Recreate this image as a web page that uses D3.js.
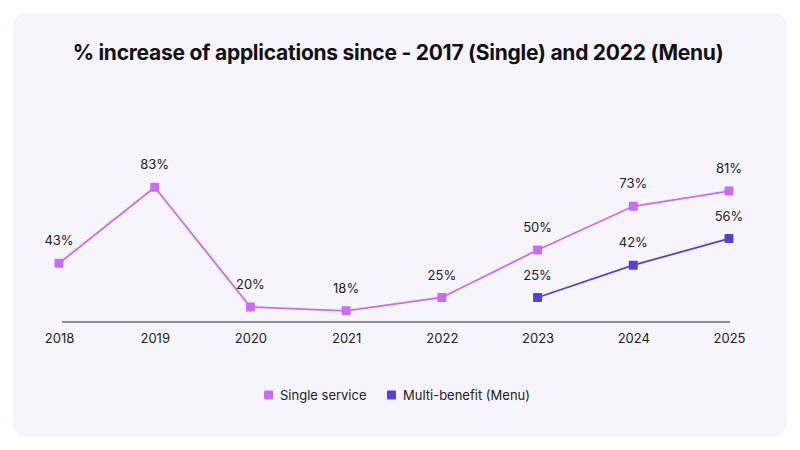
<!DOCTYPE html>
<html>
<head>
<meta charset="utf-8">
<script src="https://cdn.jsdelivr.net/npm/d3@7"></script>
<style>
  body { margin: 0; background: #fff; font-family: Inter, "Noto Sans", sans-serif; }
</style>
</head>
<body>
<script>
var years = ["2018", "2019", "2020", "2021", "2022", "2023", "2024", "2025"];
var singleValues = [43, 83, 20, 18, 25, 50, 73, 81];
var menuYears = ["2023", "2024", "2025"];
var menuValues = [25, 42, 56];
var seriesNames = ["Single service", "Multi-benefit (Menu)"];

var width = 800,
  height = 450;

var colors = ["#c86cf2", "#5a3fd4"];

var svg = d3.select("body").append("svg")
  .attr("width", width)
  .attr("height", height);

// card
svg.append("rect")
  .attr("x", 13)
  .attr("y", 13)
  .attr("width", 774)
  .attr("height", 424)
  .attr("rx", 14)
  .style("fill", "#f6f4fd");

svg.append("text")
  .attr("x", 398)
  .attr("y", 60)
  .style("text-anchor", "middle")
  .style("font-size", "21px")
  .style("font-weight", "bold")
  .style("fill", "#111")
  .style("letter-spacing", "-0.25px")
  .text("% increase of applications since - 2017 (Single) and 2022 (Menu)");

var x = d3.scalePoint()
  .domain(years)
  .range([59, 729]);

var y = d3.scaleLinear()
  .domain([0, 100])
  .range([345, 155]);

// axis
var xAxis = d3.axisBottom(x).tickSize(0).tickPadding(12);
var axisG = svg.append("g")
  .attr("transform", "translate(0,322)")
  .call(xAxis);
axisG.select(".domain")
  .attr("d", "M62,0H730")
  .style("stroke", "#6b6b6b")
  .style("stroke-width", "1.3px");
axisG.selectAll("text")
  .style("font-size", "13px")
  .style("font-family", "Inter, sans-serif")
  .style("fill", "#222");

var single = years.map(function(d, i) { return { year: d, value: singleValues[i] }; });
var menu = menuYears.map(function(d, i) { return { year: d, value: menuValues[i] }; });

var line = d3.line()
  .x(function(d) { return x(d.year); })
  .y(function(d) { return y(d.value); });

[single, menu].forEach(function(data, k) {
  svg.append("path")
    .datum(data)
    .attr("d", line)
    .style("fill", "none")
    .style("stroke", colors[k])
    .style("stroke-width", "1.8px");

  svg.selectAll(".pt" + k)
    .data(data)
    .enter().append("rect")
    .attr("class", "pt" + k)
    .attr("x", function(d) { return x(d.year) - 4.5; })
    .attr("y", function(d) { return y(d.value) - 4.5; })
    .attr("width", 9)
    .attr("height", 9)
    .attr("rx", 1)
    .style("fill", colors[k]);

  svg.selectAll(".lbl" + k)
    .data(data)
    .enter().append("text")
    .attr("class", "lbl" + k)
    .attr("x", function(d) { return x(d.year); })
    .attr("y", function(d) { return y(d.value) - 18; })
    .style("text-anchor", "middle")
    .style("font-size", "13px")
    .style("fill", "#222")
    .text(function(d) { return d.value + "%"; });
});

// legend
var legendX = [264, 387];
var legend = svg.selectAll(".legend")
  .data(seriesNames)
  .enter().append("g")
  .attr("class", "legend")
  .attr("transform", function(d, i) { return "translate(" + legendX[i] + ",395)"; });

legend.append("rect")
  .attr("x", 0)
  .attr("y", -4.5)
  .attr("width", 9)
  .attr("height", 9)
  .attr("rx", 1)
  .style("fill", function(d, i) { return colors[i]; });

legend.append("text")
  .attr("x", 16)
  .attr("dy", ".35em")
  .style("font-size", "13px")
  .style("fill", "#222")
  .text(function(d) { return d; });
</script>
</body>
</html>
